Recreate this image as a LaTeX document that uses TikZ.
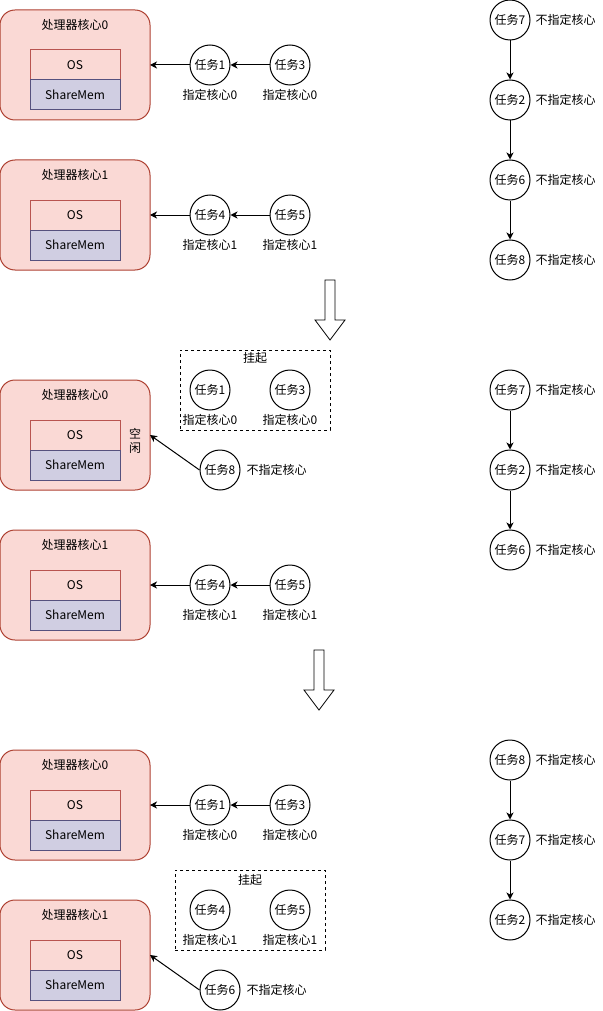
\documentclass[tikz,border=0pt]{standalone}
\usepackage{fontspec}
\setmainfont{Noto Sans CJK SC}
\usetikzlibrary{arrows.meta}
\definecolor{corefill}{HTML}{FAD9D5}
\definecolor{corestroke}{HTML}{AE4132}
\definecolor{osstroke}{HTML}{B85450}
\definecolor{smfill}{HTML}{D0CEE2}
\definecolor{smstroke}{HTML}{56517E}
\tikzset{
  every node/.style={font=\fontsize{12pt}{14pt}\selectfont},
  core/.style={draw=corestroke,fill=corefill,rounded corners=15pt,minimum width=150pt,minimum height=110pt,inner sep=0pt},
  osbox/.style={draw=osstroke,fill=corefill,minimum width=90pt,minimum height=30pt,inner sep=0pt},
  smbox/.style={draw=smstroke,fill=smfill,minimum width=90pt,minimum height=30pt,inner sep=0pt},
  task/.style={draw,circle,minimum size=40pt,inner sep=0pt,fill=white},
  txt/.style={inner sep=0pt},
  conn/.style={draw,line width=1pt,-{Stealth[length=7pt,width=7pt,inset=2pt]}},
  suspend/.style={draw,dashed,line width=0.8pt,dash pattern=on 3pt off 3pt},
  bigarrow/.style={draw,fill=white,line width=0.8pt},
}
\newcommand{\corebox}[3]{%
  \node[core] (#1) at (75,#2+55) {};
  \node[txt] (#1t) at (75,#2+15) {#3};
  \node[osbox] (#1os) at (75,#2+55) {OS};
  \node[smbox] (#1sm) at (75,#2+85) {ShareMem};
}
\begin{document}
\begin{tikzpicture}[x=1pt,y=-1pt,line width=1pt]
\useasboundingbox (0,0) rectangle (602,1011);

% ===== Section 1 =====
\corebox{ca}{10}{处理器核心0}
\corebox{cb}{160}{处理器核心1}
\node[task] (a1) at (210,65) {任务1};
\node[task] (a3) at (290,65) {任务3};
\node[txt] (a1l) at (210,95) {指定核心0};
\node[txt] (a3l) at (290,95) {指定核心0};
\node[task] (a4) at (210,215) {任务4};
\node[task] (a5) at (290,215) {任务5};
\node[txt] (a4l) at (210,245) {指定核心1};
\node[txt] (a5l) at (290,245) {指定核心1};
\coordinate (ca_in) at (150,65);
\coordinate (cb_in) at (150,215);
\draw[conn] (a3) -- (a1);
\draw[conn] (a1) -- (ca_in);
\draw[conn] (a5) -- (a4);
\draw[conn] (a4) -- (cb_in);

\node[task] (r7) at (510,20) {任务7};
\node[task] (r2) at (510,100) {任务2};
\node[task] (r6) at (510,180) {任务6};
\node[task] (r8) at (510,260) {任务8};
\foreach \n/\y in {r7/20,r2/100,r6/180,r8/260}{\node[txt,anchor=west] at (535,\y) {不指定核心};}
\draw[conn] (r7) -- (r2);
\draw[conn] (r2) -- (r6);
\draw[conn] (r6) -- (r8);

% big arrow 1
\draw[bigarrow] (325,280) -- (335,280) -- (335,320) -- (345,320) -- (330,340) -- (315,320) -- (325,320) -- cycle;

% ===== Section 2 =====
\corebox{cc}{380}{处理器核心0}
\corebox{cd}{530}{处理器核心1}
\node[suspend,minimum width=150pt,minimum height=80pt,inner sep=0pt] (s1) at (255,390) {};
\node[txt] (s1t) at (255,358) {挂起};
\node[task] (b1) at (210,390) {任务1};
\node[task] (b3) at (290,390) {任务3};
\node[txt] (b1l) at (210,420) {指定核心0};
\node[txt] (b3l) at (290,420) {指定核心0};
\node[txt,align=center] (idle) at (135,441) {空\\闲};
\node[task] (b8) at (220,470) {任务8};
\node[txt,anchor=west] (b8l) at (246,470) {不指定核心};
\coordinate (cc_in) at (150,435);
\draw[conn] (b8.west) -- (cc_in);

\node[task] (b4) at (210,585) {任务4};
\node[task] (b5) at (290,585) {任务5};
\node[txt] (b4l) at (210,615) {指定核心1};
\node[txt] (b5l) at (290,615) {指定核心1};
\coordinate (cd_in) at (150,585);
\draw[conn] (b5) -- (b4);
\draw[conn] (b4) -- (cd_in);

\node[task] (q7) at (510,390) {任务7};
\node[task] (q2) at (510,470) {任务2};
\node[task] (q6) at (510,550) {任务6};
\foreach \y in {390,470,550}{\node[txt,anchor=west] at (535,\y) {不指定核心};}
\draw[conn] (q7) -- (q2);
\draw[conn] (q2) -- (q6);

% big arrow 2
\draw[bigarrow] (314,650) -- (324,650) -- (324,690) -- (334,690) -- (319,710) -- (304,690) -- (314,690) -- cycle;

% ===== Section 3 =====
\corebox{ce}{750}{处理器核心0}
\corebox{cf}{900}{处理器核心1}
\node[task] (c1) at (210,805) {任务1};
\node[task] (c3) at (290,805) {任务3};
\node[txt] (c1l) at (210,835) {指定核心0};
\node[txt] (c3l) at (290,835) {指定核心0};
\coordinate (ce_in) at (150,805);
\draw[conn] (c3) -- (c1);
\draw[conn] (c1) -- (ce_in);

\node[suspend,minimum width=150pt,minimum height=80pt,inner sep=0pt] (s2) at (250,910) {};
\node[txt] (s2t) at (250,880) {挂起};
\node[task] (c4) at (210,910) {任务4};
\node[task] (c5) at (290,910) {任务5};
\node[txt] (c4l) at (210,940) {指定核心1};
\node[txt] (c5l) at (290,940) {指定核心1};
\node[task] (c6) at (220,990) {任务6};
\node[txt,anchor=west] (c6l) at (246,990) {不指定核心};
\coordinate (cf_in) at (150,955);
\draw[conn] (c6.west) -- (cf_in);

\node[task] (p8) at (510,760) {任务8};
\node[task] (p7) at (510,840) {任务7};
\node[task] (p2) at (510,920) {任务2};
\foreach \y in {760,840,920}{\node[txt,anchor=west] at (535,\y) {不指定核心};}
\draw[conn] (p8) -- (p7);
\draw[conn] (p7) -- (p2);
\end{tikzpicture}
\end{document}
